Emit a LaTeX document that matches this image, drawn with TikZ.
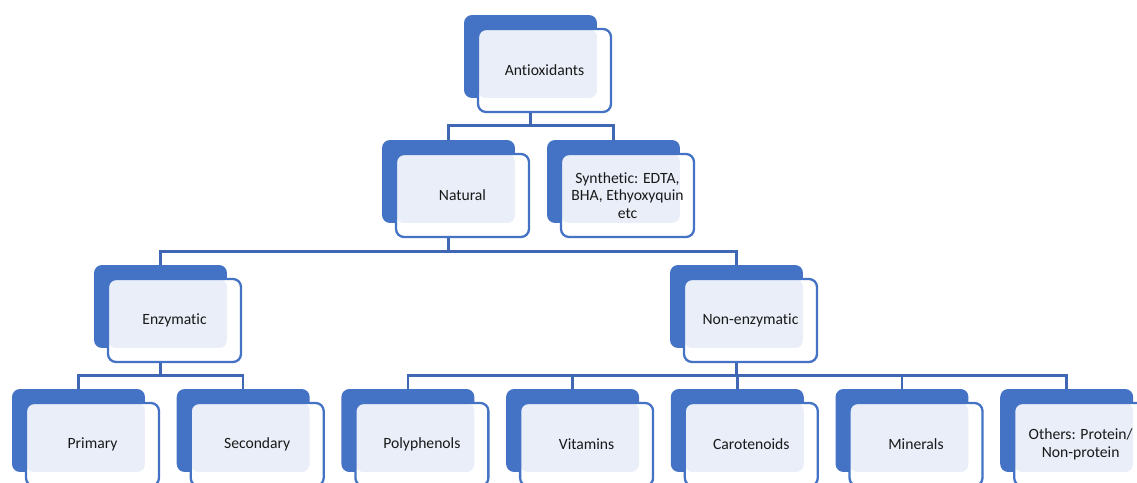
\documentclass[tikz,border=0pt]{standalone}
\usepackage{fontspec}
\setmainfont{Carlito}[Ligatures=NoCommon]
\usepackage{tikz}
\definecolor{boxblue}{HTML}{4472C4}
\definecolor{linkblue}{HTML}{3F67B3}
\definecolor{lightfill}{HTML}{E9EEF8}

\begin{document}
\begin{tikzpicture}[x=0.02cm, y=-0.02cm,
  back/.style={fill=boxblue, rounded corners=0.16cm, minimum width=2.66cm, minimum height=1.66cm, inner sep=0pt},
  front/.style={draw=boxblue, line width=1.3pt, fill=white, rounded corners=0.16cm, minimum width=2.66cm, minimum height=1.66cm, inner sep=0pt, align=center,
    font=\fontsize{8.9}{10}\selectfont, text=black!90,
    path picture={\fill[lightfill, rounded corners=0.16cm] (path picture bounding box.north west) rectangle ([xshift=-0.28cm, yshift=0.28cm]path picture bounding box.south east);}},
  link/.style={draw=linkblue, line width=1.4pt}]
\path[use as bounding box] (0,0) rectangle (1137,483);
\clip (0,0) rectangle (1137,483);

% back boxes
\node[back] (Ab) at (530.5,56.5) {};
\node[back] (Bb) at (448.5,181.5) {};
\node[back] (Cb) at (613.5,181.5) {};
\node[back] (Db) at (160.5,306.5) {};
\node[back] (Eb) at (736.5,306.5) {};
\node[back] (Fb) at (78.5,430.5) {};
\node[back] (Gb) at (243.2,430.5) {};
\node[back] (Hb) at (407.9,430.5) {};
\node[back] (Ib) at (572.6,430.5) {};
\node[back] (Jb) at (737.3,430.5) {};
\node[back] (Kb) at (902,430.5) {};
\node[back] (Lb) at (1066.7,430.5) {};

% connectors
\draw[link] (Ab.south) -- ++(0,27) -| (Bb.north);
\draw[link] (Ab.south) -- ++(0,27) -| (Cb.north);

\draw[link] (Bb.south) -- ++(0,28) -| (Db.north);
\draw[link] (Bb.south) -- ++(0,28) -| (Eb.north);

\draw[link] (Db.south) -- ++(0,27) -| (Fb.north);
\draw[link] (Db.south) -- ++(0,27) -| (Gb.north);

\draw[link] (Eb.south) -- ++(0,27) -| (Hb.north);
\draw[link] (Eb.south) -- ++(0,27) -| (Ib.north);
\draw[link] (Eb.south) -- ++(0,27) -| (Jb.north);
\draw[link] (Eb.south) -- ++(0,27) -| (Kb.north);
\draw[link] (Eb.south) -- ++(0,27) -| (Lb.north);

% front boxes
\node[front] (A) at (544.5,70.5) {Antioxidants};
\node[front] (B) at (462.5,195.5) {Natural};
\node[front] (C) at (627.5,195.5) {Synthetic: EDTA,\\BHA, Ethyoxyquin\\etc};
\node[front] (D) at (174.5,320.5) {Enzymatic};
\node[front] (E) at (750.5,320.5) {Non-enzymatic};
\node[front] (F) at (92.5,444.5) {Primary};
\node[front] (G) at (257.2,444.5) {Secondary};
\node[front] (H) at (421.9,444.5) {Polyphenols};
\node[front] (I) at (586.6,444.5) {Vitamins};
\node[front] (J) at (751.3,444.5) {Carotenoids};
\node[front] (K) at (916,444.5) {Minerals};
\node[front] (L) at (1080.7,444.5) {Others: Protein/\\Non-protein};
\end{tikzpicture}
\end{document}
